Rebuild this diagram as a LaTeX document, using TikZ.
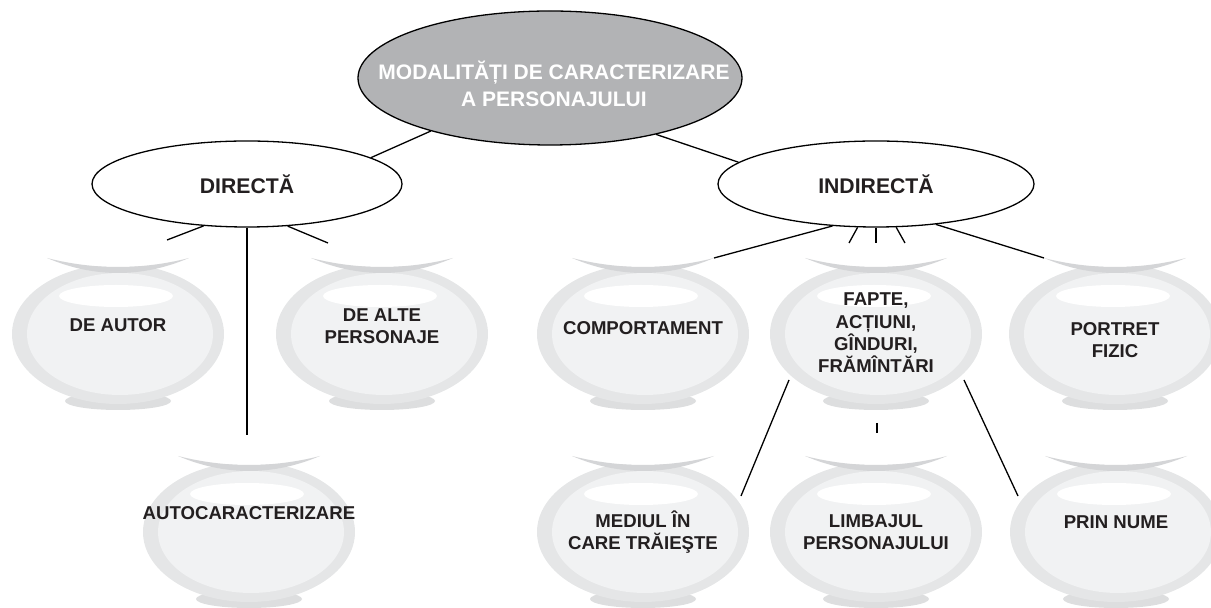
\documentclass[tikz,border=0pt]{standalone}
\usepackage{fontspec}
\setmainfont{Liberation Sans}
\usetikzlibrary{shapes.geometric}

\definecolor{titlegray}{RGB}{178,179,181}
\definecolor{potouter}{RGB}{229,230,231}
\definecolor{potinner}{RGB}{241,242,243}
\definecolor{potfoot}{RGB}{221,222,223}
\definecolor{potrim}{RGB}{212,213,215}
\definecolor{inkdark}{RGB}{35,31,32}

\tikzset{
	pics/pot/.style={code={
		\fill[potfoot] (0,66) ellipse [x radius=53, y radius=9];
		\fill[potouter] (0,-1) ellipse [x radius=106, y radius=70];
		\fill[potinner] (2,-1) ellipse [x radius=93, y radius=61];
		\fill[white] (-2,-39) ellipse [x radius=57, y radius=11];
		\fill[white] (-71,-77) .. controls (-24,-65) and (24,-65) .. (71,-77) -- (71,-96) -- (-71,-96) -- cycle;
		\fill[potrim] (-71,-77) .. controls (-24,-65) and (24,-65) .. (71,-77) .. controls (24,-57) and (-24,-57) .. (-71,-77) -- cycle;
		\coordinate (-rl) at (-71,-77);
		\coordinate (-rr) at (71,-77);
		\coordinate (-w) at (-98,-37);
		\coordinate (-e) at (98,-37);
		\coordinate (-sw) at (-87,45);
		\coordinate (-se) at (88,45);
		\coordinate (-s) at (1,88);
	}},
	pottext/.style={font=\bfseries\fontsize{9.3}{11.2}\selectfont, text=inkdark, align=center, inner sep=0pt},
	topell/.style={ellipse, draw=black, line width=0.65pt, fill=titlegray, minimum width=192pt, minimum height=67pt, inner sep=0pt},
	titletext/.style={font=\bfseries\fontsize{10.5}{13.5}\selectfont, text=white, align=center, inner sep=0pt},
	branch/.style={ellipse, draw=black, line width=0.65pt, fill=white, minimum height=43pt, inner sep=0pt, font=\bfseries\fontsize{10.6}{12}\selectfont, text=inkdark},
	conn/.style={draw=black, line width=0.65pt}
}

\begin{document}
\begin{tikzpicture}[x=0.5pt, y=-0.5pt]
	\useasboundingbox (0,0) rectangle (1211,608);

	\foreach \n/\x/\y/\ty/\t in {autor/118/335/325/{DE AUTOR}, alte/382/335/326/{DE ALTE\\PERSONAJE},
		comp/643/335/328/{COMPORTAMENT}, fapte/876/335/333/{FAPTE,\\ACȚIUNI,\\GÎNDURI,\\FRĂMÎNTĂRI},
		portret/1115/335/340/{PORTRET\\FIZIC}, auto/249/533/513/{AUTOCARACTERIZARE},
		mediul/643/533/532/{MEDIUL ÎN\\CARE TRĂIEŞTE}, limbaj/876/533/532/{LIMBAJUL\\PERSONAJULUI},
		prin/1116/533/522/{PRIN NUME}}
	{
		\pic (p\n) at (\x,\y) {pot};
		\node[pottext] (\n) at (\x,\ty) {\t};
	}

	\node[topell] (top) at (550,78) {};
	\node[titletext] (title) at (554,84) {MODALITĂȚI DE CARACTERIZARE\\A PERSONAJULUI};
	\node[branch, minimum width=155pt] (dir) at (247,184) {DIRECTĂ};
	\node[branch, minimum width=158pt] (ind) at (876,184) {INDIRECTĂ};

	\coordinate (dirl) at (167,240);
	\coordinate (dirr) at (328,243);
	\coordinate (dirm) at (247,435);
	\coordinate (indl) at (849,243);
	\coordinate (indm) at (876,243);
	\coordinate (indr) at (905,243);
	\coordinate (faptem) at (877,433);

	\draw[conn] (top.204) -- (dir.12);
	\draw[conn] (top.332) -- (ind.171);

	\draw[conn] (dir.224) -- (dirl);
	\draw[conn] (dir.314) -- (dirr);
	\draw[conn] (dir.south) -- (dirm);

	\draw[conn] (ind.224) -- (pcomp-rr);
	\draw[conn] (ind.247) -- (indl);
	\draw[conn] (ind.south) -- (indm);
	\draw[conn] (ind.295) -- (indr);
	\draw[conn] (ind.326) -- (pportret-rl);

	\draw[conn] (pfapte-sw) -- (pmediul-e);
	\draw[conn] (pfapte-s) -- (faptem);
	\draw[conn] (pfapte-se) -- (pprin-w);
\end{tikzpicture}
\end{document}
